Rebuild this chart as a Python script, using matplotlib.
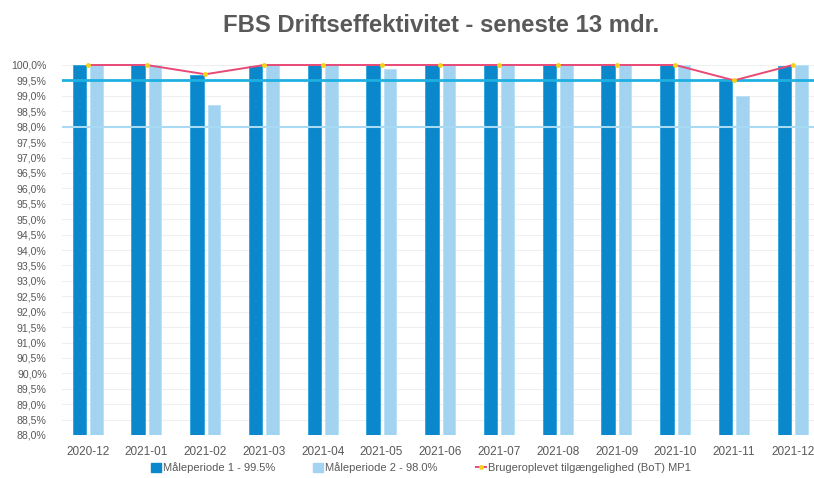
import matplotlib
matplotlib.use("Agg")
import matplotlib.pyplot as plt
import numpy as np
from matplotlib.patches import Patch
from matplotlib.lines import Line2D
from matplotlib.ticker import FuncFormatter, MultipleLocator

plt.rcParams['font.family'] = ['Liberation Sans', 'DejaVu Sans']

months = ["2020-12", "2021-01", "2021-02", "2021-03", "2021-04", "2021-05", "2021-06",
          "2021-07", "2021-08", "2021-09", "2021-10", "2021-11", "2021-12"]
mp1 = [100.0, 100.0, 99.69, 99.96, 100.0, 100.0, 100.0, 100.0, 100.0, 100.0, 100.0, 99.53, 99.98]
mp2 = [100.0, 100.0, 98.70, 100.0, 100.0, 99.88, 100.0, 100.0, 100.0, 100.0, 100.0, 99.00, 100.0]
bot_mp1 = [100.0, 100.0, 99.70, 100.0, 100.0, 100.0, 100.0, 100.0, 100.0, 100.0, 100.0, 99.50, 100.0]
target1 = 99.5
target2 = 98.0
labels = ["Måleperiode 1 - 99.5%", "Måleperiode 2 - 98.0%", "Brugeroplevet tilgængelighed (BoT) MP1"]
title = "FBS Driftseffektivitet - seneste 13 mdr."

dark = "#0b87cb"
light = "#a2d4f1"
red = "#e84a76"
txt = "#595959"

fig = plt.figure(figsize=(8.14, 4.78), dpi=100)
ax = fig.add_axes([62/814, 1 - 435/478, (814-62)/814, (435-65)/478])

x = np.arange(len(months))
w = 0.23
ax.bar(x - 0.145, [v - 88 for v in mp1], bottom=88, width=w, color=dark, edgecolor="#2aa3dd", linewidth=0.6, zorder=2)
ax.bar(x + 0.145, [v - 88 for v in mp2], bottom=88, width=0.21, color=light, edgecolor="#b8e0f5", linewidth=0.6, zorder=2)

ax.axhline(target1, color="#1fb0e2", lw=2.0, zorder=3)
ax.axhline(target2, color="#a8dbf3", lw=1.5, zorder=3)

ax.plot(x, bot_mp1, color=red, lw=1.4, zorder=4, clip_on=False)
ax.plot(x, bot_mp1, ls="none", marker="o", ms=2.5, color="#f5d31a", zorder=5, clip_on=False)

ax.set_ylim(88, 100)
ax.set_xlim(-0.44, 12.36)
ax.yaxis.set_major_locator(MultipleLocator(0.5))
ax.yaxis.set_major_formatter(FuncFormatter(lambda v, p: f"{v:.1f}".replace(".", ",") + "%"))
ax.grid(axis="y", color="#efefef", lw=0.8, zorder=0)
ax.set_axisbelow(True)
for s in ax.spines.values():
    s.set_visible(False)
ax.set_xticks(x)
ax.set_xticklabels(months)
ax.tick_params(axis="y", length=0, pad=11, labelsize=7.6, labelcolor=txt)
ax.tick_params(axis="x", length=0, pad=8, labelsize=8.5, labelcolor=txt)

fig.text(441/814, 1 - 25/478, title, ha="center", va="center", fontsize=17.2, fontweight="bold", color=txt)

handles = [Patch(facecolor=dark, edgecolor=dark),
           Patch(facecolor=light, edgecolor=light),
           Line2D([0], [0], color=red, lw=1.4, marker="o", ms=2.5, mfc="#f5d31a", mec="#f5d31a")]
fig.legend(handles, labels, loc="center", bbox_to_anchor=(0.517, 1 - 468/478), ncol=3, frameon=False,
           fontsize=8, labelcolor=txt, handlelength=0.9, handleheight=0.8, handletextpad=0.2, columnspacing=3.4)

fig.savefig("out.png", dpi=100)
